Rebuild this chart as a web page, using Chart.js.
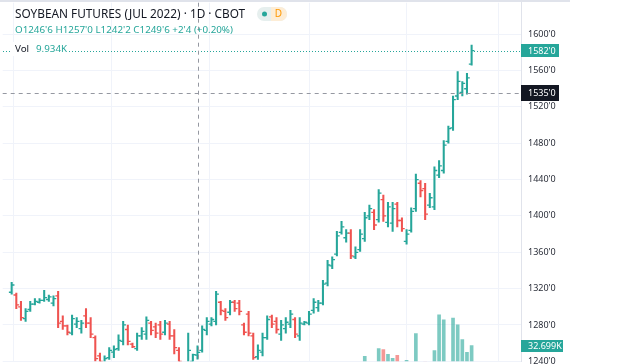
<!DOCTYPE html>
<html>
<head>
<meta charset="utf-8">
<script src="https://cdn.jsdelivr.net/npm/chart.js@4.4.1/dist/chart.umd.min.js"></script>
<style>
  html, body { margin: 0; padding: 0; background: #fff; }
  #wrap { position: relative; width: 640px; height: 364px; }
</style>
</head>
<body>
<div id="wrap"><canvas id="chart" width="640" height="364"></canvas></div>
<script>
// --- DATA ---
const title = 'SOYBEAN FUTURES (JUL 2022) · 1D · CBOT';
const opens = [
  1316, 1313, 1300, 1287, 1297, 1303, 1305, 1307, 1308, 1304,
  1312, 1284, 1279, 1271, 1281, 1276, 1290, 1282, 1266, 1246,
  1238, 1244, 1250, 1254, 1262, 1275, 1259, 1254, 1268, 1270,
  1282, 1278, 1280, 1272, 1281, 1268, 1252, 1229, 1236, 1240,
  1246.75, 1252, 1274, 1281, 1284, 1305, 1295, 1294, 1305, 1304,
  1280, 1292, 1268, 1245, 1250, 1266, 1289, 1284, 1270, 1276,
  1281, 1286, 1268, 1281, 1282, 1296, 1299, 1304, 1326, 1345,
  1358, 1382, 1376, 1381, 1355, 1363, 1375, 1400, 1404, 1396,
  1418, 1393, 1392, 1413, 1395, 1372, 1384, 1408, 1436, 1430,
  1412, 1410, 1445, 1450, 1482, 1497, 1532, 1536, 1540, 1567
];
const highs = [
  1327, 1315, 1306, 1298, 1306, 1309, 1309, 1318, 1313, 1312,
  1317, 1290, 1280, 1291, 1288, 1285, 1298, 1288, 1268, 1249,
  1246, 1255, 1257, 1269, 1284, 1280, 1260, 1271, 1277, 1289,
  1284, 1282, 1284, 1285, 1284, 1275, 1255, 1238, 1271, 1248,
  1257, 1279, 1288, 1288, 1317, 1306, 1298, 1307, 1307, 1307,
  1282, 1295, 1271, 1258, 1271, 1290, 1291, 1288, 1285, 1288,
  1296, 1288, 1288, 1284, 1295, 1309, 1307, 1329, 1351, 1355,
  1383, 1394, 1385, 1385, 1366, 1385, 1404, 1412, 1407, 1429,
  1423, 1415, 1415, 1415, 1398, 1385, 1409, 1446, 1439, 1436,
  1425, 1454, 1461, 1483, 1499, 1532, 1559, 1548, 1557, 1588
];
const lows = [
  1314, 1298, 1285, 1284, 1295, 1302, 1304, 1306, 1306, 1301,
  1277, 1275, 1269, 1269, 1277, 1271, 1277, 1266, 1240, 1235,
  1234, 1242, 1244, 1252, 1258, 1258, 1255, 1252, 1264, 1264,
  1269, 1266, 1264, 1269, 1264, 1248, 1238, 1224, 1232, 1236,
  1242.25, 1250, 1269, 1279, 1280, 1291, 1285, 1291, 1295, 1291,
  1269, 1268, 1242, 1242, 1246, 1264, 1277, 1271, 1263, 1271,
  1277, 1266, 1263, 1280, 1280, 1293, 1295, 1302, 1323, 1342,
  1356, 1380, 1371, 1353, 1353, 1361, 1372, 1396, 1385, 1393,
  1394, 1388, 1383, 1388, 1383, 1369, 1382, 1405, 1421, 1396,
  1409, 1407, 1442, 1447, 1480, 1494, 1528, 1532, 1534, 1566
];
const closes = [
  1324, 1302, 1288, 1295, 1303, 1306, 1307, 1310, 1311, 1309,
  1282, 1279, 1272, 1287, 1284, 1282, 1282, 1270, 1243, 1240,
  1243, 1252, 1253, 1263, 1280, 1262, 1256, 1268, 1273, 1285,
  1274, 1271, 1270, 1282, 1268, 1255, 1240, 1234, 1252, 1247.25,
  1249.75, 1275, 1284, 1286, 1314, 1296, 1288, 1305, 1298, 1295,
  1272, 1271, 1244, 1252, 1266, 1286, 1281, 1275, 1280, 1283,
  1292, 1270, 1282, 1283, 1292, 1305, 1304, 1325, 1346, 1352,
  1378, 1388, 1381, 1356, 1360, 1380, 1398, 1408, 1390, 1425,
  1400, 1410, 1408, 1395, 1386, 1380, 1405, 1440, 1428, 1402,
  1420, 1450, 1455, 1478, 1496, 1528, 1548, 1546, 1552, 1582
];
// volume, thousands of contracts
const volumes = [
  9.2, 8.4, 10.1, 7.6, 6.9, 7.3, 6.2, 8.8, 7.1, 7.9,
  12.4, 10.6, 9.3, 11.2, 8.1, 7.4, 9.6, 11.8, 15.3, 13.1,
  11.6, 9.8, 8.7, 10.4, 12.9, 10.2, 7.8, 9.1, 8.3, 11.5,
  10.7, 9.4, 10.9, 9.9, 11.3, 13.6, 14.8, 12.2, 13.4, 10.8,
  9.934, 12.7, 11.9, 8.6, 14.1, 11.2, 10.5, 9.8, 9.2, 10.3,
  13.5, 14.2, 16.1, 12.8, 11.7, 13.9, 10.4, 10.9, 12.3, 11.1,
  12.6, 13.2, 12.9, 9.5, 11.4, 13.8, 12.1, 16.4, 18.2, 14.5,
  17.9, 16.3, 13.7, 18.8, 15.2, 16.6, 24.1, 17.4, 19.1, 30.4,
  29.6, 25.7, 22.6, 24.9, 18.3, 21.0, 19.4, 42.1, 17.2, 19.6,
  16.8, 28.8, 56.9, 53.0, 18.5, 54.5, 49.1, 37.4, 27.3, 32.699
];
const priceTicks = [1240, 1280, 1320, 1360, 1400, 1440, 1480, 1520, 1560, 1600];
const monthStarts = [10.9, 31.9, 53.1, 75.2, 94.9]; // bar index of month breaks
const hoverIndex = 40;
const crossPrice = 1535;

// --- STYLE ---
const UP = '#26a69a';
const DOWN = '#ef5350';
const UP_VOL = 'rgba(38,166,154,0.6)';
const DOWN_VOL = 'rgba(239,83,80,0.6)';
const FONT = "'Noto Sans', sans-serif";
const TICK_OFF = 0.3;

const isUp = closes.map((c, i) => c >= opens[i]);

function fmtPrice(v) {
  const w = Math.floor(v + 1e-9);
  return w + "'" + Math.round((v - w) * 8);
}

const overlay = {
  id: 'overlay',
  afterDraw(chart) {
    const { ctx, chartArea: a, scales: { x, y, yv } } = chart;
    ctx.save();

    // top border
    ctx.fillStyle = '#e0e3eb';
    ctx.fillRect(0, 0, 570, 2);

    // last price line (dotted)
    const lastY = Math.round(y.getPixelForValue(closes[closes.length - 1]));
    ctx.fillStyle = UP;
    for (let px = Math.ceil(a.left); px < a.right; px += 3) {
      ctx.fillRect(px, lastY, 1, 1);
    }

    // crosshair
    const cx = Math.round(x.getPixelForValue(hoverIndex)) + 0.5;
    const cy = Math.round(y.getPixelForValue(crossPrice)) + 0.5;
    ctx.strokeStyle = '#9598a1';
    ctx.lineWidth = 1;
    ctx.setLineDash([4, 4]);
    ctx.beginPath();
    ctx.moveTo(cx, a.top);
    ctx.lineTo(cx, a.bottom);
    ctx.moveTo(a.left, cy);
    ctx.lineTo(a.right, cy);
    ctx.stroke();
    ctx.setLineDash([]);

    // header
    ctx.textBaseline = 'middle';
    ctx.textAlign = 'left';
    ctx.font = '11.8px ' + FONT;
    ctx.fillStyle = '#131722';
    ctx.fillText(title, 15, 14.5);

    // status badge
    ctx.fillStyle = '#e6efee';
    ctx.beginPath();
    ctx.roundRect(257, 7, 30, 14, 7);
    ctx.fill();
    ctx.fillStyle = '#fdedd6';
    ctx.beginPath();
    ctx.roundRect(271, 7, 16, 14, [0, 7, 7, 0]);
    ctx.fill();
    ctx.fillStyle = UP;
    ctx.beginPath();
    ctx.arc(264.5, 14, 2.5, 0, Math.PI * 2);
    ctx.fill();
    ctx.fillStyle = '#ff9800';
    ctx.font = '10px ' + FONT;
    ctx.textAlign = 'center';
    ctx.fillText('D', 278.5, 14.5);
    ctx.textAlign = 'left';

    // OHLC row
    const i = hoverIndex;
    const chg = closes[i] - closes[i - 1];
    const pct = (chg / closes[i - 1] * 100).toFixed(2);
    const sign = chg >= 0 ? '+' : '-';
    const row = 'O' + fmtPrice(opens[i]) + ' H' + fmtPrice(highs[i]) + ' L' + fmtPrice(lows[i]) +
      ' C' + fmtPrice(closes[i]) + ' ' + sign + fmtPrice(Math.abs(chg)) + ' (' + sign + pct + '%)';
    ctx.font = '9.8px ' + FONT;
    ctx.fillStyle = isUp[i] ? UP : DOWN;
    ctx.fillText(row, 15, 30);

    // volume row
    ctx.fillStyle = '#fff';
    ctx.fillRect(12, 42, 56, 14);
    ctx.fillStyle = '#131722';
    ctx.fillText('Vol', 15, 49);
    ctx.fillStyle = isUp[i] ? UP : DOWN;
    ctx.fillText(volumes[i].toFixed(3) + 'K', 36, 49);

    // axis labels
    function tag(text, yc, h, w, bg) {
      ctx.fillStyle = bg;
      ctx.fillRect(a.right, Math.round(yc - h / 2), w, h);
      ctx.fillStyle = '#fff';
      ctx.font = '9px ' + FONT;
      ctx.fillText(text, a.right + 7, yc + 0.5);
    }
    const n = closes.length - 1;
    tag(fmtPrice(closes[n]), y.getPixelForValue(closes[n]), 13, 38, UP);
    tag(fmtPrice(crossPrice), y.getPixelForValue(crossPrice), 16, 38, '#131722');
    tag(volumes[n].toFixed(3) + 'K', yv.getPixelForValue(volumes[n]), 12, 42, isUp[n] ? UP : DOWN);

    ctx.restore();
  }
};

new Chart(document.getElementById('chart'), {
  type: 'bar',
  data: {
    datasets: [
      {
        label: 'Volume',
        yAxisID: 'yv',
        order: 3,
        grouped: false,
        barThickness: 3,
        data: volumes.map((v, i) => ({ x: i, y: v })),
        backgroundColor: isUp.map(u => u ? UP_VOL : DOWN_VOL),
      },
      {
        label: 'Range',
        yAxisID: 'y',
        order: 2,
        grouped: false,
        barThickness: 1.4,
        data: highs.map((h, i) => ({ x: i, y: [lows[i], h] })),
        backgroundColor: isUp.map(u => u ? UP : DOWN),
      },
      {
        type: 'scatter',
        label: 'Open',
        yAxisID: 'y',
        order: 1,
        data: opens.map((o, i) => ({ x: i - TICK_OFF, y: o })),
        pointStyle: 'line',
        pointRadius: 1.4,
        pointHoverRadius: 1.4,
        pointBorderWidth: 1.3,
        pointBorderColor: isUp.map(u => u ? UP : DOWN),
      },
      {
        type: 'scatter',
        label: 'Close',
        yAxisID: 'y',
        order: 1,
        data: closes.map((c, i) => ({ x: i + TICK_OFF, y: c })),
        pointStyle: 'line',
        pointRadius: 1.4,
        pointHoverRadius: 1.4,
        pointBorderWidth: 1.3,
        pointBorderColor: isUp.map(u => u ? UP : DOWN),
      },
    ],
  },
  options: {
    responsive: false,
    animation: false,
    events: [],
    layout: { padding: 0 },
    plugins: { legend: { display: false }, tooltip: { enabled: false } },
    scales: {
      x: {
        type: 'linear',
        min: -1.93,
        max: 109.63,
        offset: false,
        grid: { color: '#f0f3fa', drawTicks: false },
        border: { display: false },
        ticks: { display: false },
        afterBuildTicks: (s) => { s.ticks = monthStarts.map(v => ({ value: v })); },
      },
      y: {
        position: 'right',
        min: 1240,
        max: 1634.7,
        grid: { color: '#f0f3fa', drawTicks: false },
        border: { color: '#e0e3eb' },
        ticks: {
          color: '#2a2e39',
          padding: 7,
          font: { family: FONT, size: 9 },
          callback: (v) => fmtPrice(v),
        },
        afterBuildTicks: (s) => { s.ticks = priceTicks.map(v => ({ value: v })); },
        afterFit: (s) => { s.width = 119; s.paddingTop = 0; s.paddingBottom = 0; },
      },
      yv: {
        type: 'linear',
        display: false,
        min: 20.25,
        max: 303.7,
      },
    },
  },
  plugins: [overlay],
});
</script>
</body>
</html>
